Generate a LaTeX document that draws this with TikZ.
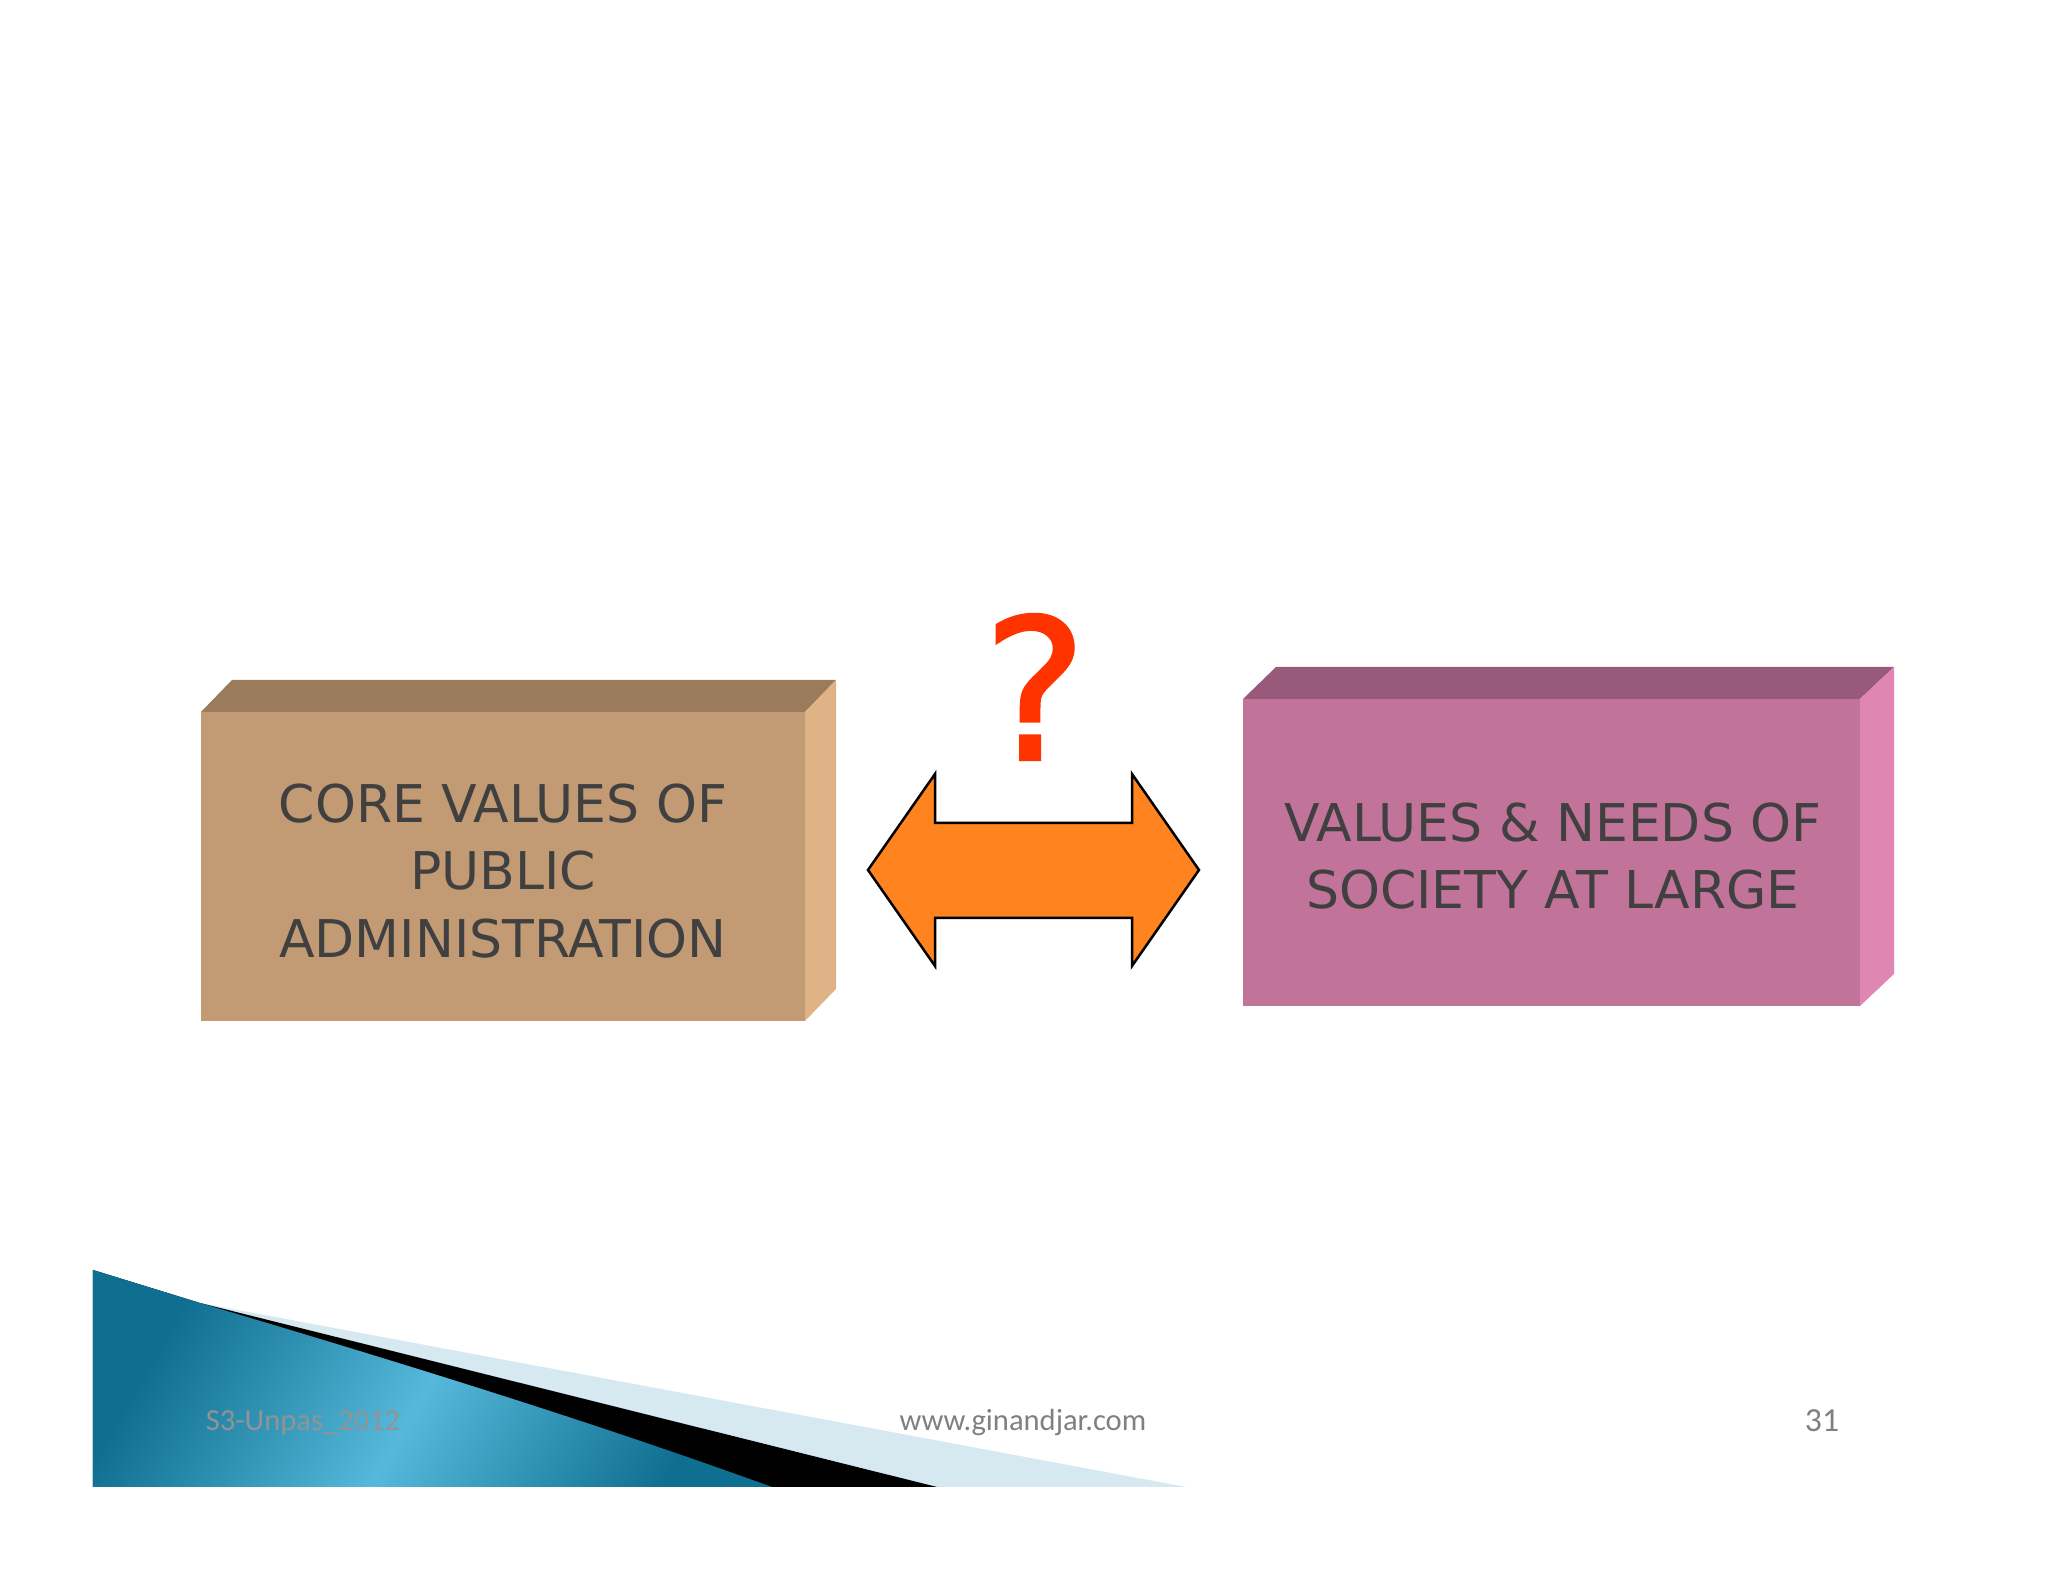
\documentclass[tikz,border=0pt]{standalone}
\usepackage{fontspec}
\setmainfont{DejaVu Sans}
\newfontfamily\footfont{Carlito}
\newfontfamily\markfont[FakeBold=1.2]{DejaVu Sans}
\usepackage{tikz}
\usetikzlibrary{calc}
\definecolor{tanfront}{HTML}{C29A74}
\definecolor{tantop}{HTML}{9A7B5C}
\definecolor{tanside}{HTML}{E0B387}
\definecolor{pinkfront}{HTML}{C27399}
\definecolor{pinktop}{HTML}{985A7B}
\definecolor{pinkside}{HTML}{E086B3}
\definecolor{textgrey}{HTML}{404040}
\definecolor{arroworange}{HTML}{FF8420}
\definecolor{qred}{HTML}{FF3300}
\definecolor{tealdark}{HTML}{0E6F90}
\definecolor{teallight}{HTML}{56B8DA}
\definecolor{paleblue}{HTML}{D6E8F0}
\definecolor{footgrey}{HTML}{808080}
\tikzset{
  boxtext/.style={text=textgrey, align=center, font=\fontsize{14.8}{19.3}\selectfont},
  foottext/.style={text=footgrey, font=\footfont\fontsize{8.7}{10}\selectfont}
}

\begin{document}
\begin{tikzpicture}
			%%%%% START %%%%%
			\useasboundingbox[fill=white] (0, 0) rectangle (20.48, 15.82);
			
			% left block
			\fill[tanfront] (2.01, 5.61) rectangle (8.05, 8.70);
			\fill[tantop] (2.01, 8.70) -- (2.32, 9.02) -- (8.36, 9.02) -- (8.05, 8.70) -- cycle;
			\fill[tanside] (8.05, 8.70) -- (8.36, 9.02) -- (8.36, 5.93) -- (8.05, 5.61) -- cycle;
			\node[boxtext] (corevalues) at (5.03, 7.11) {CORE VALUES OF\\PUBLIC\\ADMINISTRATION};
			
			% right block
			\fill[pinkfront] (12.43, 5.76) rectangle (18.60, 8.83);
			\fill[pinktop] (12.43, 8.83) -- (12.76, 9.15) -- (18.94, 9.15) -- (18.60, 8.83) -- cycle;
			\fill[pinkside] (18.60, 8.83) -- (18.94, 9.15) -- (18.94, 6.08) -- (18.60, 5.76) -- cycle;
			\node[boxtext] (society) at (15.53, 7.26) {VALUES \& NEEDS OF\\SOCIETY AT LARGE};
			
			% double arrow
			\draw[fill=arroworange, line width=0.25mm, line join=miter] (8.68, 7.12) -- (9.35, 8.08) -- (9.35, 7.59) -- (11.32, 7.59) -- (11.32, 8.08)
			  -- (11.99, 7.12) -- (11.32, 6.16) -- (11.32, 6.64) -- (9.35, 6.64) -- (9.35, 6.16) -- cycle;
			\node[text=qred, font=\markfont\fontsize{56}{60}\selectfont] (question) at (10.35, 8.95) {?};
			
			% footer wedge
			\fill[paleblue] (0.93, 3.12) -- (2.00, 2.79) -- (11.86, 0.95) -- (0.93, 0.95) -- cycle;
			\fill[black] (0.93, 3.12) -- (2.00, 2.79) -- (9.37, 0.95) -- (0.93, 0.95) -- cycle;
			\shade[left color=tealdark, right color=tealdark, middle color=teallight, shading angle=60]
			  (0.93, 3.12) -- (2.00, 2.79) .. controls (4.5, 2.05) and (6.2, 1.50) .. (7.72, 0.95) -- (0.93, 0.95) -- cycle;
			
			\node[foottext, text=footgrey!85] (course) at (3.03, 1.59) {S3-Unpas\_2012};
			\node[foottext] (website) at (10.23, 1.59) {www.ginandjar.com};
			\node[foottext, font=\footfont\fontsize{9.6}{11}\selectfont] (pageno) at (18.22, 1.61) {31};
			%%%%% END %%%%%
\end{tikzpicture}
\end{document}
